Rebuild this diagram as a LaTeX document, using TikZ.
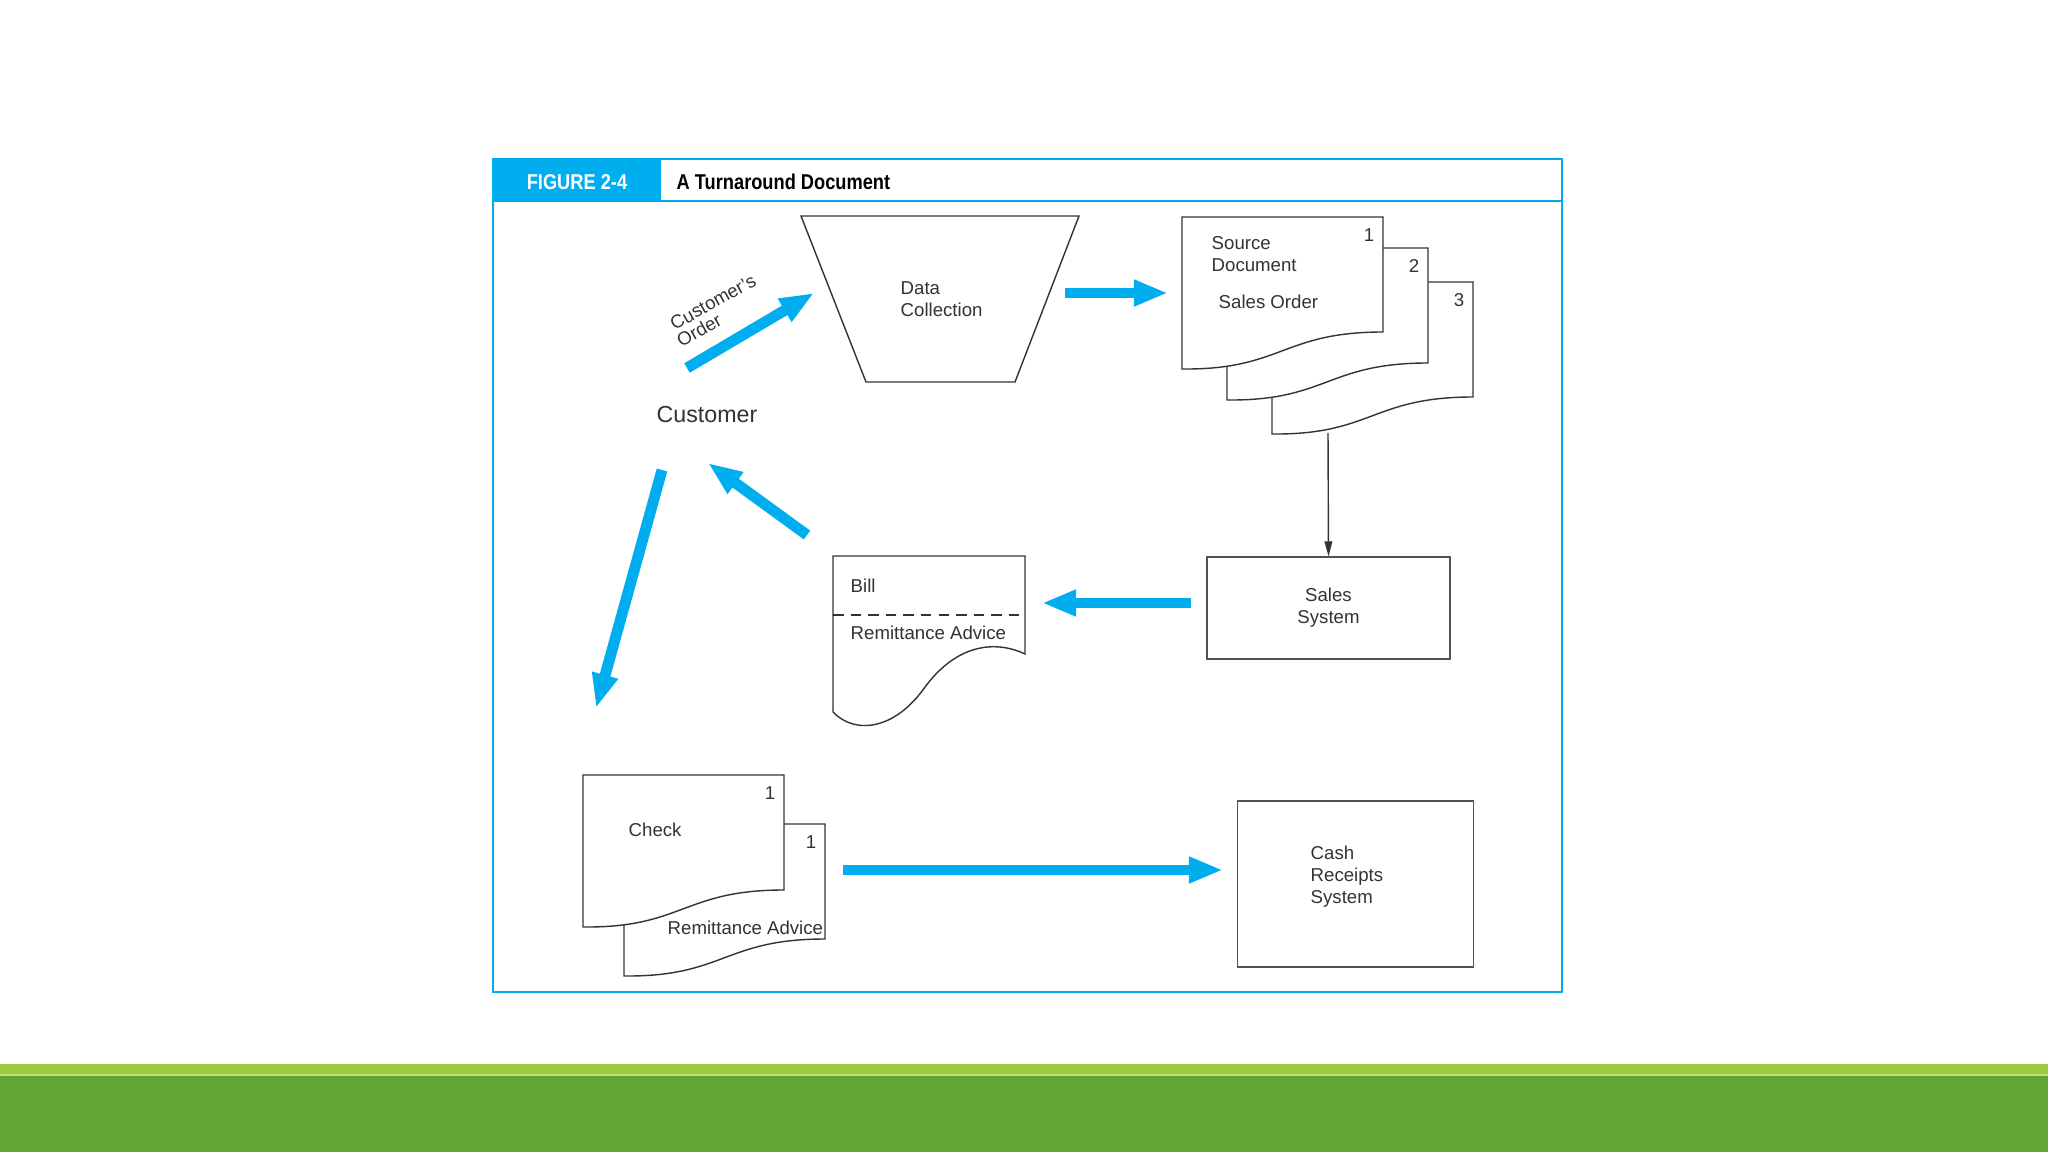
\documentclass[tikz,border=0pt]{standalone}
\usepackage{fontspec}
\setmainfont{Liberation Sans}
\newfontfamily\headfont[FakeStretch=0.85]{Liberation Sans}
\usetikzlibrary{arrows.meta}
\definecolor{figblue}{HTML}{00AEEF}
\definecolor{ink}{HTML}{333333}
\definecolor{barlight}{HTML}{9BCB3C}
\definecolor{barline}{HTML}{C2E07A}
\definecolor{bardark}{HTML}{62A435}
\tikzset{pics/sheet/.style={code={
  \draw[docline] (0,0) -- (201,0) -- (201,115) .. controls (100,115) and (100,153) .. (0,152) -- cycle;
  \node[txt] (-num) at (187,18) {#1};}}}

\begin{document}
\begin{tikzpicture}[x=0.01cm,y=-0.01cm,
  txt/.style={text=ink,font=\fontsize{5.3}{6.3}\selectfont,inner sep=0pt},
  docline/.style={draw=ink,fill=white,line width=0.4pt},
  box/.style={draw=ink!85,line width=0.35pt,inner sep=0pt},
  bluearr/.style={figblue,line width=3.1pt,-{Triangle[length=9.7pt,width=7pt]}}]
\useasboundingbox (0,0) rectangle (2048,1152);
\fill[white] (0,0) rectangle (2048,1152);
\fill[barlight] (0,1064) rectangle (2048,1074);
\fill[barline] (0,1074) rectangle (2048,1075.5);
\fill[bardark] (0,1075.5) rectangle (2048,1152);

\fill[figblue] (493,159) rectangle (661,201);
\draw[figblue,line width=0.7pt] (493,159) rectangle (1562,992);
\draw[figblue,line width=0.7pt] (493,201) -- (1562,201);
\node[font=\headfont\bfseries\fontsize{6.1}{7}\selectfont,text=white,inner sep=0pt] (fignum) at (577,182) {FIGURE 2-4};
\node[font=\headfont\bfseries\fontsize{6.1}{7}\selectfont,text=black,inner sep=0pt,anchor=west] (figtitle) at (676,182) {A Turnaround Document};

\draw[docline] (801,216) -- (1079,216) -- (1015,382) -- (866,382) -- cycle;
\node[txt,align=left,anchor=west] (dctxt) at (900,299) {Data\\Collection};

\pic (s3) at (1272,282) {sheet=3};
\pic (s2) at (1227,248) {sheet=2};
\pic (s1) at (1182,217) {sheet=1};
\node[txt,align=left,anchor=west] (srctxt) at (1211,254) {Source\\Document};
\node[txt,anchor=west] (sotxt) at (1218,302) {Sales Order};
\coordinate (srcbot) at (1328,433);

\node[box,minimum width=69.1pt,minimum height=29pt,txt,align=center] (sales) at (1328.5,608) {Sales\\System};
\draw[ink,line width=0.4pt,-{Triangle[length=4.3pt,width=2.2pt]}] (srcbot) -- (sales.north);

\draw[docline] (833,556) -- (1025,556) -- (1025,654) .. controls (1000,642) and (960,640) .. (925,687)
  .. controls (895,730) and (855,735) .. (833,712) -- cycle;
\draw[ink,line width=0.6pt,dash pattern=on 3pt off 2pt] (833,615) -- (1025,615);
\node[txt,anchor=west] (bill) at (850,586) {Bill};
\node[txt,anchor=west] (billra) at (850,633) {Remittance Advice};

\node[text=ink,font=\fontsize{6.6}{8}\selectfont,inner sep=0pt] (cust) at (707,415) {Customer};
\node[txt,rotate=29] (ordlbl) at (713,302) {Customer's};
\node[txt,rotate=29] (ordlbl2) at (699,330) {Order};

\pic (ra) at (624,824) {sheet=1};
\pic (chk) at (583,775) {sheet=1};
\node[txt,anchor=west] (chktxt) at (628,830) {Check};
\node[txt,anchor=west] (ratxt) at (667,928) {Remittance Advice};

\node[box,minimum width=66.9pt,minimum height=47.2pt] (cash) at (1355.5,884) {};
\node[txt,align=left,anchor=west] (cashtxt) at (1310,877) {Cash\\Receipts\\System};

\coordinate (ord1) at (687,368);   \coordinate (ord2) at (814,293);
\coordinate (dc1) at (1065,293);   \coordinate (dc2) at (1168,293);
\coordinate (sb1) at (1191,603);   \coordinate (sb2) at (1042,603);
\coordinate (bc1) at (807,535);    \coordinate (bc2) at (708,463);
\coordinate (cc1) at (662,470);    \coordinate (cc2) at (596,708);
\coordinate (ck1) at (843,870);    \coordinate (ck2) at (1223,870);
\draw[bluearr] (ord1) -- (ord2);
\draw[bluearr] (dc1) -- (dc2);
\draw[bluearr] (sb1) -- (sb2);
\draw[bluearr] (bc1) -- (bc2);
\draw[bluearr] (cc1) -- (cc2);
\draw[bluearr] (ck1) -- (ck2);
\end{tikzpicture}
\end{document}
